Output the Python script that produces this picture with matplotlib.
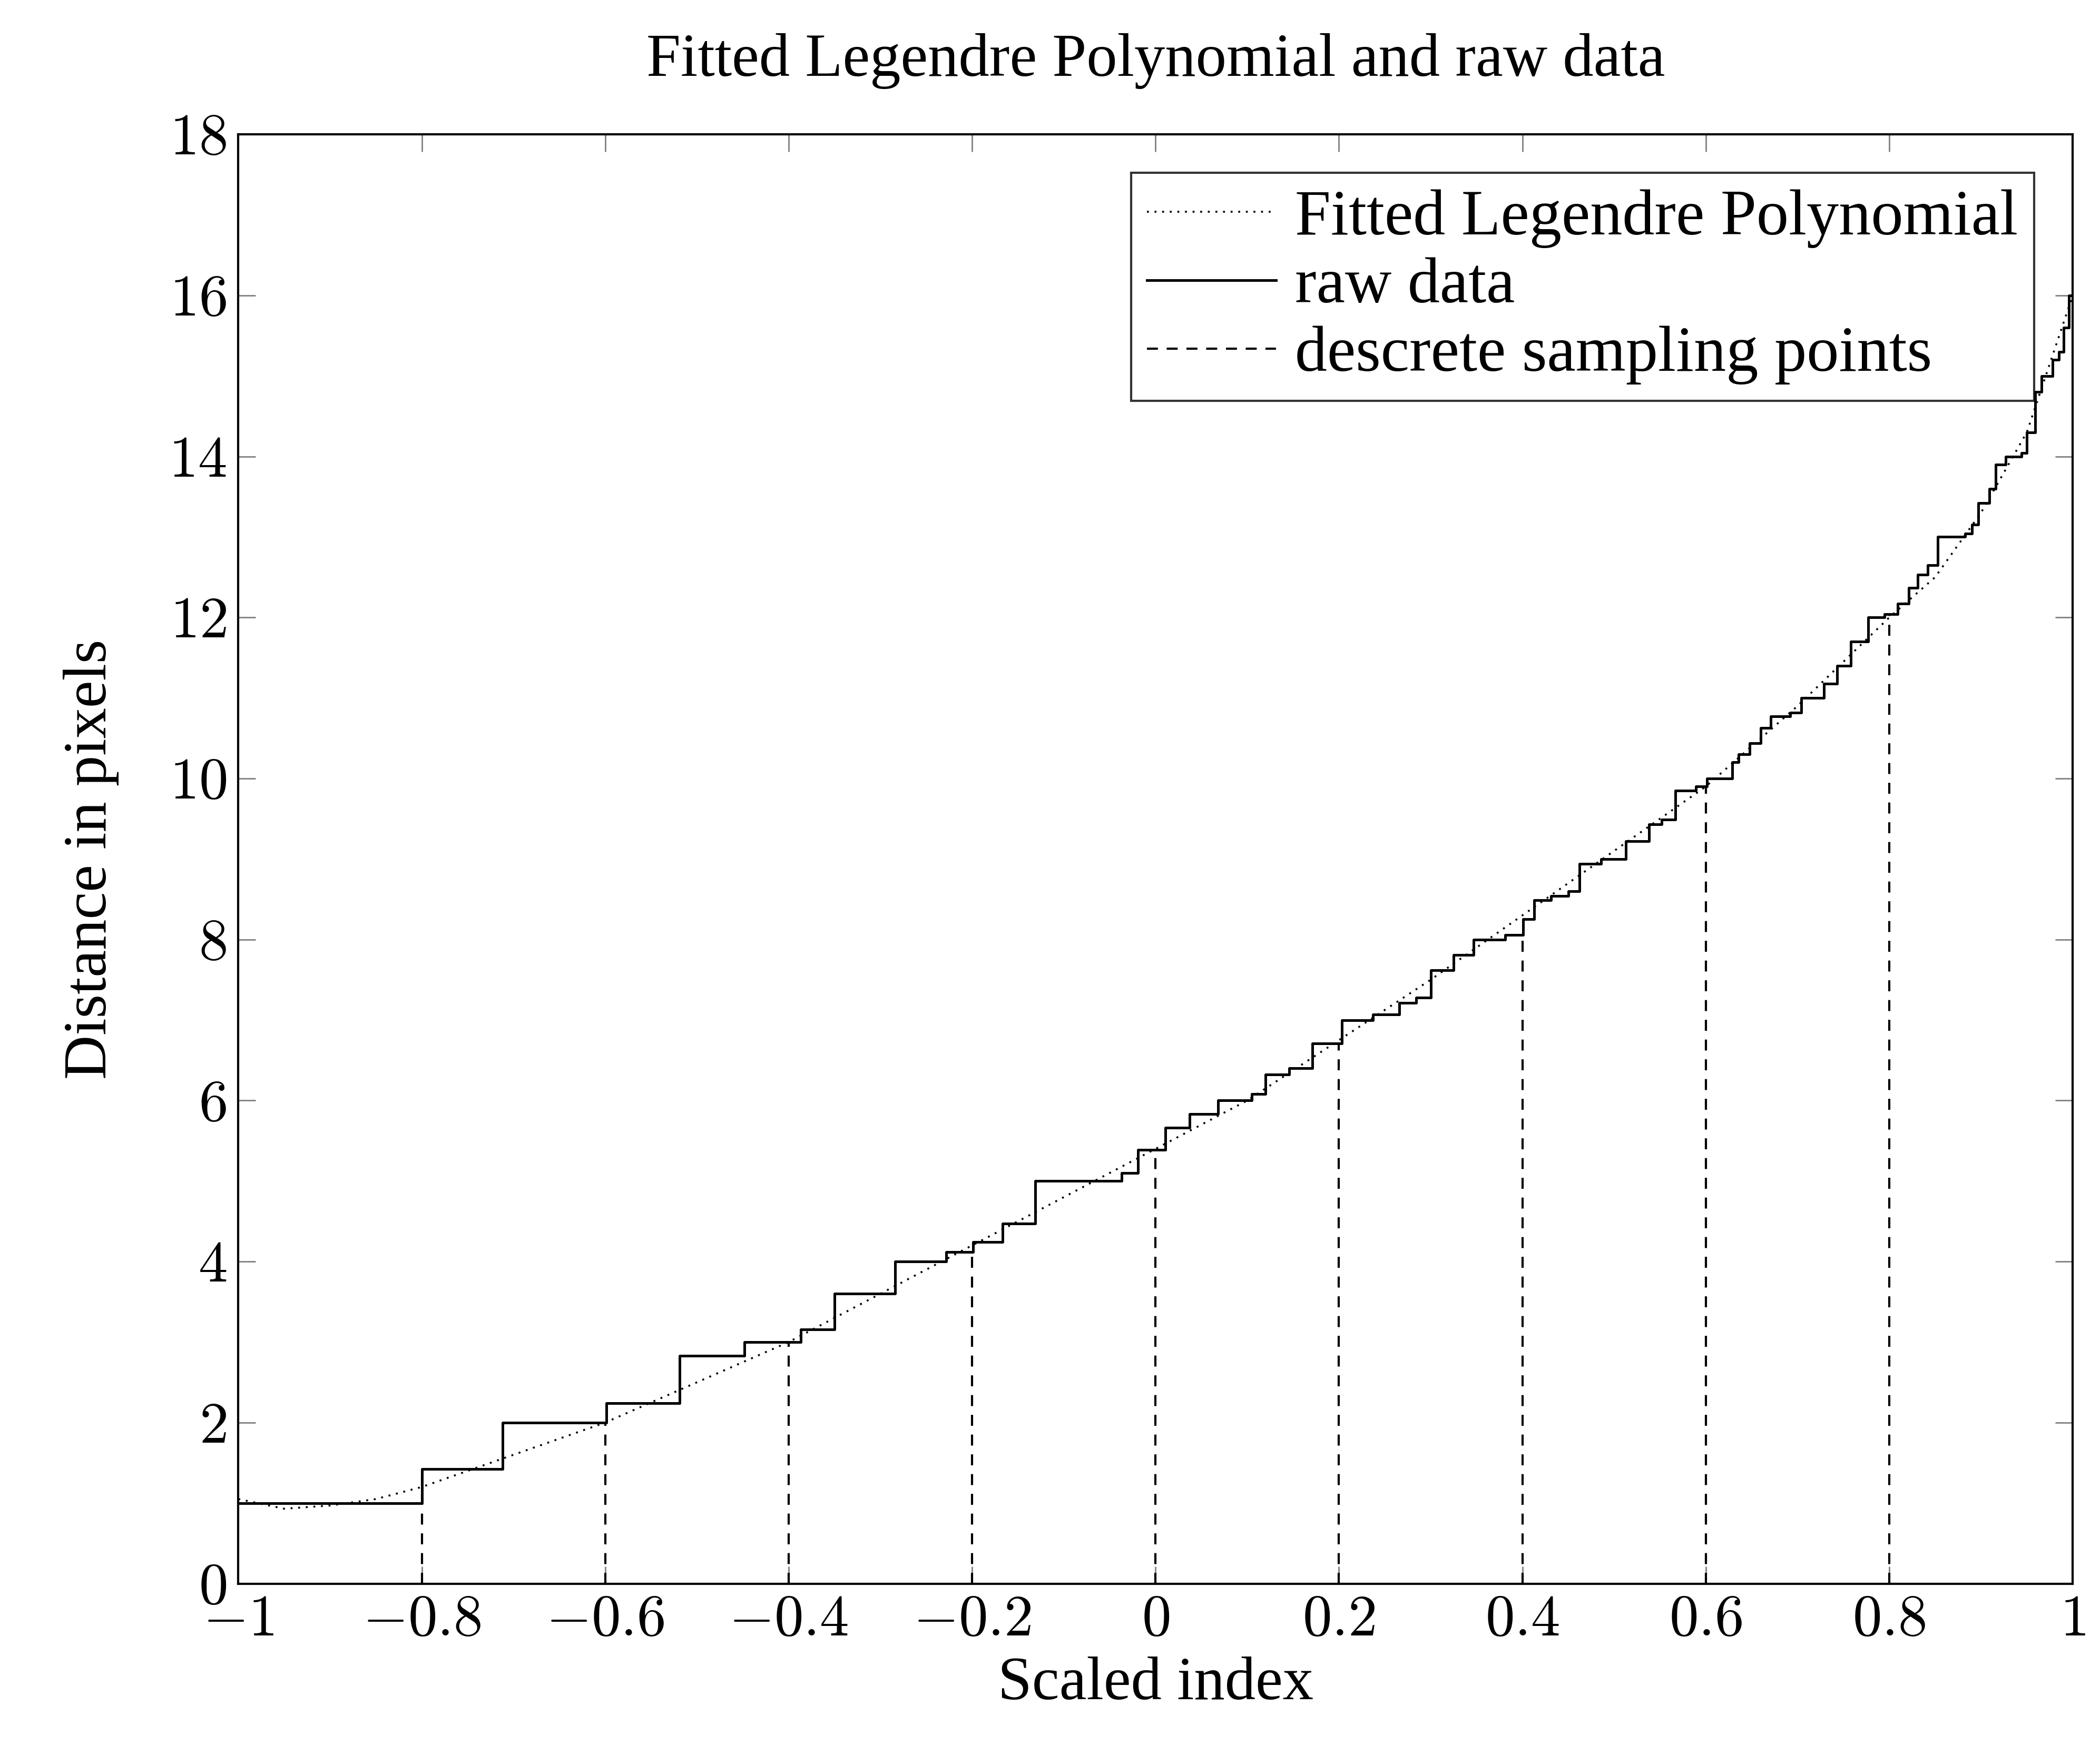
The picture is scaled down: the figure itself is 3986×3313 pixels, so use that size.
import numpy as np
import matplotlib.pyplot as plt
from matplotlib.ticker import FuncFormatter

plt.rcParams['mathtext.fontset'] = 'cm'
plt.rcParams['font.family'] = 'Liberation Serif'

# raw data steps: value holds from step_x[i] until step_x[i+1]
step_x = [-1.0, -0.800, -0.712, -0.599, -0.519, -0.448, -0.387, -0.350, -0.284, -0.228,
          -0.199, -0.167, -0.131, -0.037, -0.019, 0.011, 0.037, 0.068, 0.105, 0.120,
          0.146, 0.171, 0.203, 0.237, 0.266, 0.284, 0.300, 0.325, 0.347, 0.381,
          0.401, 0.413, 0.431, 0.450, 0.462, 0.486, 0.513, 0.538, 0.552, 0.567,
          0.589, 0.601, 0.629, 0.636, 0.648, 0.660, 0.671, 0.692, 0.704, 0.729,
          0.743, 0.758, 0.777, 0.795, 0.809, 0.821, 0.831, 0.842, 0.853, 0.883,
          0.890, 0.897, 0.909, 0.916, 0.927, 0.944, 0.950, 0.959, 0.966, 0.978,
          0.985, 0.990, 0.996, 1.0]
step_y = [1.0, 1.42, 2.0, 2.24, 2.83, 3.0, 3.16, 3.6, 4.0, 4.12,
          4.24, 4.47, 5.0, 5.1, 5.39, 5.66, 5.83, 6.0, 6.08, 6.32,
          6.4, 6.71, 7.0, 7.07, 7.21, 7.28, 7.62, 7.81, 8.0, 8.06,
          8.25, 8.49, 8.54, 8.6, 8.94, 9.0, 9.22, 9.43, 9.49, 9.85,
          9.9, 10.0, 10.2, 10.3, 10.44, 10.63, 10.77, 10.82, 11.0, 11.18,
          11.4, 11.7, 12.0, 12.04, 12.17, 12.37, 12.53, 12.65, 13.0, 13.04,
          13.15, 13.42, 13.6, 13.9, 14.0, 14.04, 14.3, 14.8, 15.0, 15.2,
          15.3, 15.6, 16.0, 16.2]

# fitted polynomial
fit_x = [-1.0, -0.95, -0.9, -0.85, -0.8, -0.7, -0.6, -0.5, -0.4, -0.3, -0.2, -0.1,
         0.0, 0.1, 0.2, 0.3, 0.4, 0.5, 0.6, 0.7, 0.8, 0.85, 0.9, 0.95, 1.0]
fit_y = [1.05, 0.93, 0.97, 1.05, 1.2, 1.6, 2.0, 2.5, 3.0, 3.6, 4.2, 4.8,
         5.4, 6.0, 6.75, 7.5, 8.3, 9.1, 9.9, 10.9, 12.0, 12.5, 13.3, 14.3, 16.0]

sample_x = [-0.8, -0.6, -0.4, -0.2, 0.0, 0.2, 0.4, 0.6, 0.8]

fig = plt.figure(figsize=(19.93, 16.565), dpi=200)
ax = fig.add_axes([0.1135, 0.0925, 0.8735, 0.8305])

ax.plot(fit_x, fit_y, color='black', linestyle=(0, (1, 3)), linewidth=1.3,
        label='Fitted Legendre Polynomial')
ax.step(step_x, step_y, where='post', color='black', linewidth=1.8, label='raw data')
for i, sx in enumerate(sample_x):
    idx = np.searchsorted(step_x, sx + 1e-9, side='right') - 1
    sy = step_y[idx]
    ax.plot([sx, sx], [0, sy], color='black', linestyle=(0, (5, 4)), linewidth=1.5,
            label='descrete sampling points' if i == 0 else None)

ax.set_xlim(-1, 1)
ax.set_ylim(0, 18)
ax.set_xticks(np.arange(-1, 1.01, 0.2))
ax.set_yticks(np.arange(0, 19, 2))


def fmt_tick(v, p):
    v = round(v, 1)
    if v == 0:
        v = 0.0
    return '$%g$' % abs(v) if v == 0 else '$%g$' % v


fmt = FuncFormatter(fmt_tick)
ax.xaxis.set_major_formatter(fmt)
ax.yaxis.set_major_formatter(fmt)
ax.tick_params(direction='in', top=True, right=True, labelsize=40, length=12,
               width=1, color='gray', pad=8)
for s in ax.spines.values():
    s.set_linewidth(1.5)

ax.set_title('Fitted Legendre Polynomial and raw data', fontsize=42, pad=40)
ax.set_xlabel('Scaled index', fontsize=42, labelpad=6)
ax.set_ylabel('Distance in pixels', fontsize=42, labelpad=34)

leg = ax.legend(loc='upper right', fontsize=44, frameon=True, fancybox=False,
                edgecolor='black', handlelength=2.0, handletextpad=0.3,
                borderaxespad=0.6, labelspacing=0.15, borderpad=0.25)
leg.get_frame().set_linewidth(1.5)

fig.savefig('out.png')
